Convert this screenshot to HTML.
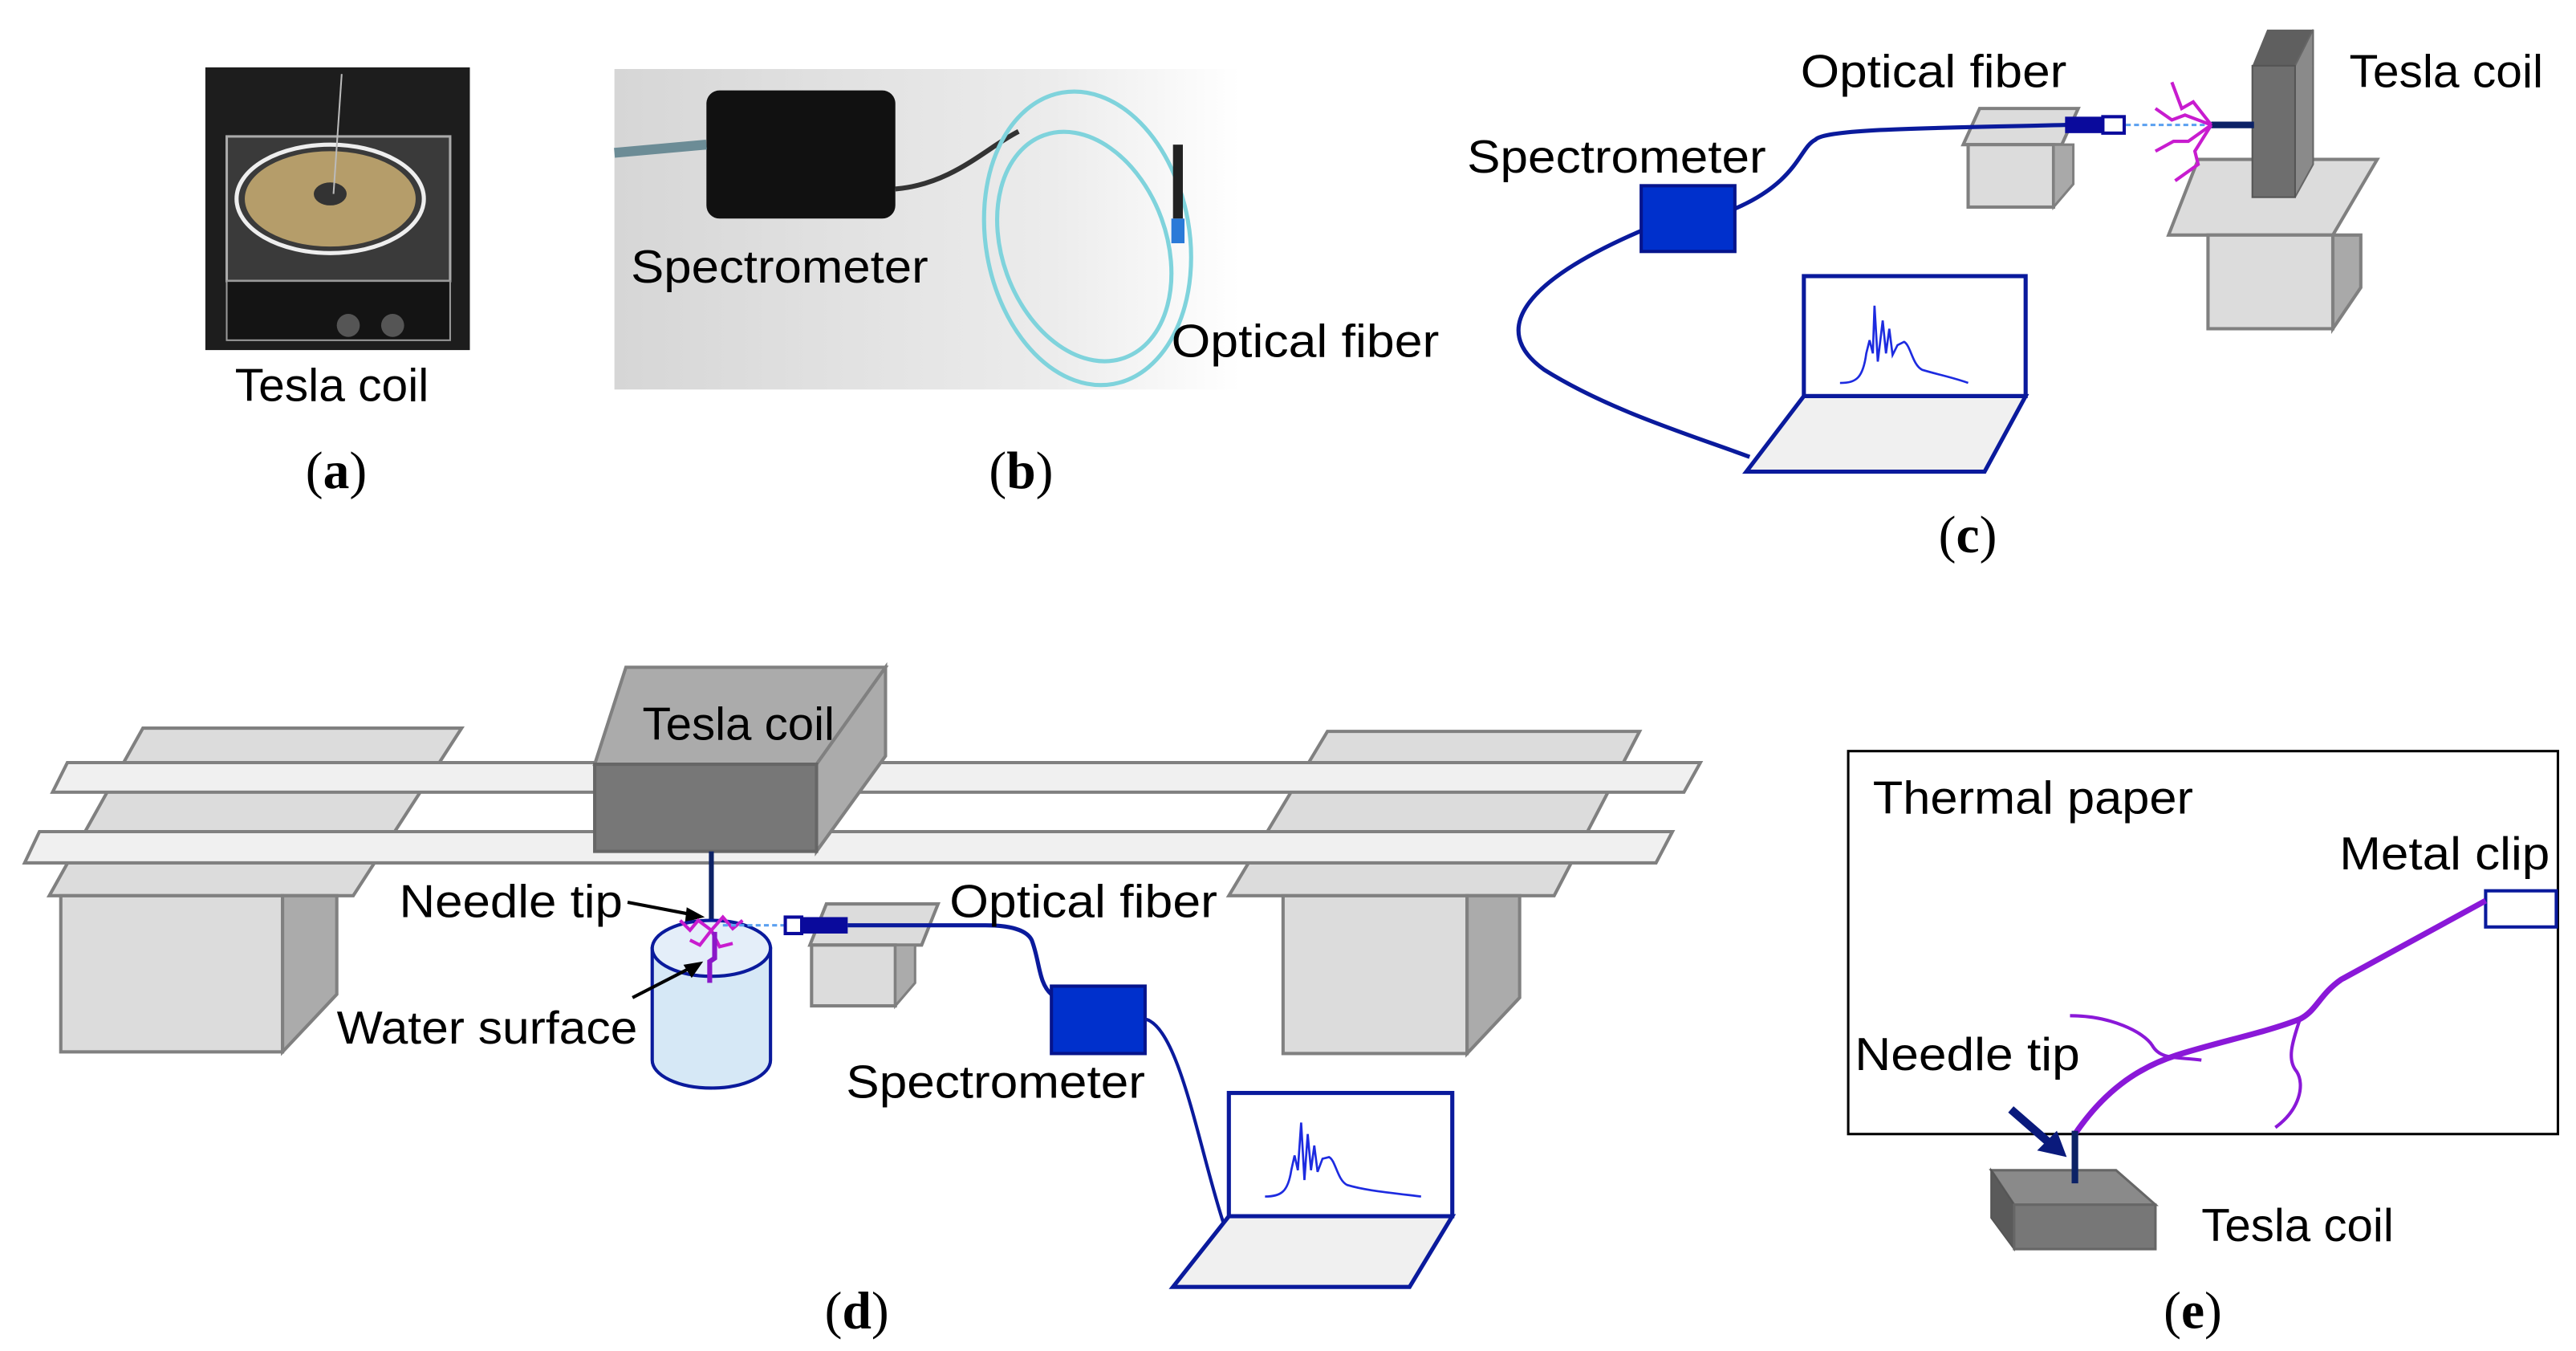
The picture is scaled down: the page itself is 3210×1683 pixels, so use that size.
<!DOCTYPE html>
<html><head><meta charset="utf-8"><style>
html,body{margin:0;padding:0;background:#fff;}
svg{display:block;}
text{font-family:"Liberation Sans",sans-serif;fill:#000;}
.lb{font-family:"Liberation Serif",serif;font-size:32px;}
</style></head><body>
<svg width="3210" height="1683" viewBox="0 0 1568 822" preserveAspectRatio="none" xmlns="http://www.w3.org/2000/svg">
<defs>
<linearGradient id="bg" x1="0" y1="0" x2="1" y2="0"><stop offset="0" stop-color="#d6d6d6"/><stop offset="0.7" stop-color="#ececec"/><stop offset="1" stop-color="#ffffff"/></linearGradient>
</defs>
<g font-size="28" lengthAdjust="spacingAndGlyphs">
<!-- (a) photo -->
<rect x="125" y="41" width="161" height="172" fill="#1d1d1d"/>
<rect x="138" y="83" width="136" height="88" fill="#3a3a3a" stroke="#aaa" stroke-width="1.5"/>
<ellipse cx="201" cy="121" rx="57" ry="33" fill="none" stroke="#eee" stroke-width="2.5"/>
<ellipse cx="201" cy="121" rx="52" ry="29" fill="#b59d6a"/>
<ellipse cx="201" cy="118" rx="10" ry="7" fill="#333"/>
<line x1="208" y1="45" x2="203" y2="118" stroke="#bbb" stroke-width="1"/>
<rect x="138" y="171" width="136" height="36" fill="#141414" stroke="#999" stroke-width="1"/>
<circle cx="212" cy="198" r="7" fill="#555"/><circle cx="239" cy="198" r="7" fill="#555"/>
<text x="143" y="244" textLength="118" lengthAdjust="spacingAndGlyphs">Tesla coil</text>
<text class="lb" x="186" y="297"><tspan>(</tspan><tspan font-weight="bold">a</tspan><tspan>)</tspan></text>
<!-- (b) photo -->
<rect x="374" y="42" width="381" height="195" fill="url(#bg)"/>
<rect x="430" y="55" width="115" height="78" rx="8" fill="#111"/>
<path d="M374 93 L430 88" stroke="#6c8c96" stroke-width="6"/>
<path d="M545 115 C580 112 600 90 620 80" stroke="#333" stroke-width="3" fill="none"/>
<ellipse cx="662" cy="145" rx="62" ry="90" fill="none" stroke="#7fd3dc" stroke-width="2.5" transform="rotate(-10 662 145)"/>
<ellipse cx="660" cy="150" rx="50" ry="72" fill="none" stroke="#7fd3dc" stroke-width="2.5" transform="rotate(-20 660 150)"/>
<rect x="714" y="88" width="6" height="45" fill="#222"/><rect x="713" y="133" width="8" height="15" fill="#2a7ad8"/>
<text x="384" y="172" textLength="181" lengthAdjust="spacingAndGlyphs">Spectrometer</text>
<text x="713" y="217" textLength="163" lengthAdjust="spacingAndGlyphs">Optical fiber</text>
<text class="lb" x="602" y="297"><tspan>(</tspan><tspan font-weight="bold">b</tspan><tspan>)</tspan></text>

<!-- (c) -->
<text x="1096" y="53" textLength="162" lengthAdjust="spacingAndGlyphs">Optical fiber</text>
<text x="1430" y="53" textLength="118" lengthAdjust="spacingAndGlyphs">Tesla coil</text>
<text x="893" y="105" textLength="182" lengthAdjust="spacingAndGlyphs">Spectrometer</text>
<polygon points="1338,97 1447,97 1420,143 1320,143" fill="#dcdcdc" stroke="#808080" stroke-width="2"/>
<rect x="1344" y="143" width="76" height="57" fill="#dcdcdc" stroke="#808080" stroke-width="2"/>
<polygon points="1420,143 1437,143 1437,175 1420,200" fill="#a9a9a9" stroke="#808080" stroke-width="2"/>
<polygon points="1371,40 1380,18 1408,18 1397,40" fill="#5f5f5f"/>
<polygon points="1397,40 1408,18 1408,100 1397,120" fill="#8a8a8a" stroke="#666" stroke-width="1"/>
<rect x="1371" y="40" width="26" height="80" fill="#6e6e6e" stroke="#555" stroke-width="1"/>
<polygon points="1205,66 1265,66 1255,88 1195,88" fill="#dcdcdc" stroke="#808080" stroke-width="2"/>
<rect x="1198" y="88" width="52" height="38" fill="#dcdcdc" stroke="#808080" stroke-width="2"/>
<polygon points="1250,88 1262,88 1262,112 1250,126" fill="#a9a9a9" stroke="#808080" stroke-width="1.5"/>
<path d="M1056,127 C1095,110 1095,90 1105,85 C1112,78 1180,78 1258,76" stroke="#0a1a9c" stroke-width="2.5" fill="none"/>
<path d="M1000,140 C930,170 905,200 940,225 C980,250 1030,265 1065,278" stroke="#0a1a9c" stroke-width="2.5" fill="none"/>
<rect x="1257" y="71" width="23" height="10" fill="#0a0a9c"/>
<rect x="1280" y="71" width="13" height="10" fill="#fff" stroke="#0a0a9c" stroke-width="2"/>
<line x1="1294" y1="76" x2="1346" y2="76" stroke="#5aa0f0" stroke-width="1.5" stroke-dasharray="3,2"/>
<line x1="1346" y1="76" x2="1372" y2="76" stroke="#0c2266" stroke-width="4"/>
<g stroke="#c81ccf" stroke-width="2" fill="none">
<path d="M1346,76 L1335,62 L1328,66 L1322,50"/>
<path d="M1346,76 L1330,70 L1322,73 L1312,66"/>
<path d="M1346,76 L1332,86 L1323,86 L1312,92"/>
<path d="M1346,76 L1336,92 L1338,100 L1324,110"/>
</g>
<rect x="999" y="113" width="57" height="40" fill="#0030cc" stroke="#06148c" stroke-width="2"/>
<rect x="1098" y="168" width="135" height="73" fill="#fff" stroke="#0a1a9c" stroke-width="2.5"/>
<polygon points="1098,241 1233,241 1208,287 1063,287" fill="#f0f0f0" stroke="#0a1a9c" stroke-width="2.5"/>
<path d="M1120,233 C1130,233 1134,230 1136,215 L1138,207 L1140,215 L1141,186 L1143,220 L1146,195 L1148,215 L1150,200 L1152,216 L1155,210 L1159,208 C1163,210 1164,222 1170,225 C1180,228 1190,230 1198,233" stroke="#1d2be0" stroke-width="1.3" fill="none"/>
<text class="lb" x="1180" y="336"><tspan>(</tspan><tspan font-weight="bold">c</tspan><tspan>)</tspan></text>

<!-- (d) -->
<polygon points="87,443 281,443 215,545 30,545" fill="#dcdcdc" stroke="#808080" stroke-width="2"/>
<polygon points="808,445 998,445 946,545 748,545" fill="#dcdcdc" stroke="#808080" stroke-width="2"/>
<polygon points="41,464 1035,464 1025,482 32,482" fill="#f0f0f0" stroke="#808080" stroke-width="2"/>
<polygon points="24,506 1018,506 1008,525 15,525" fill="#f0f0f0" stroke="#808080" stroke-width="2"/>
<rect x="37" y="545" width="135" height="95" fill="#dcdcdc" stroke="#808080" stroke-width="2"/>
<polygon points="172,545 205,545 205,605 172,640" fill="#ababab" stroke="#808080" stroke-width="2"/>
<rect x="781" y="545" width="112" height="96" fill="#dcdcdc" stroke="#808080" stroke-width="2"/>
<polygon points="893,545 925,545 925,607 893,641" fill="#ababab" stroke="#808080" stroke-width="2"/>
<polygon points="362,465 381,406 539,406 497,465" fill="#ababab" stroke="#808080" stroke-width="2"/>
<polygon points="497,465 539,406 539,460 497,518" fill="#ababab" stroke="#808080" stroke-width="2"/>
<rect x="362" y="465" width="135" height="53" fill="#777" stroke="#666" stroke-width="2"/>
<text x="391" y="450" textLength="117" lengthAdjust="spacingAndGlyphs">Tesla coil</text>
<line x1="433" y1="518" x2="433" y2="566" stroke="#0c2266" stroke-width="3"/>
<text x="243" y="558" textLength="136" lengthAdjust="spacingAndGlyphs">Needle tip</text>
<path d="M382,549 L424,557" stroke="#000" stroke-width="2"/><polygon points="429,558 418,552 417,561"/>
<path d="M397,577 L397,645 A36,17 0 0 0 469,645 L469,577 Z" fill="#d6e8f6" stroke="#0a1a9c" stroke-width="2"/>
<ellipse cx="433" cy="577" rx="36" ry="17" fill="#e4eef9" stroke="#0a1a9c" stroke-width="2"/>
<g stroke="#c81ccf" stroke-width="2" fill="none">
<path d="M433,566 L425,560 L420,566 L414,560"/><path d="M433,566 L440,558 L446,565 L452,560"/>
<path d="M433,566 L426,575 L420,572"/><path d="M433,566 L438,576 L446,574"/>
</g>
<path d="M435,567 L435,583 L432,585 L432,598" stroke="#8a18c8" stroke-width="3" fill="none"/>
<text x="205" y="635" textLength="183" lengthAdjust="spacingAndGlyphs">Water surface</text>
<path d="M385,607 L422,588" stroke="#000" stroke-width="2"/><polygon points="428,585 416,587 421,595"/>
<line x1="440" y1="563" x2="478" y2="563" stroke="#5aa0f0" stroke-width="1.5" stroke-dasharray="3,2"/>
<polygon points="503,550 571,550 561,575 493,575" fill="#dcdcdc" stroke="#808080" stroke-width="2"/>
<rect x="494" y="575" width="51" height="37" fill="#dcdcdc" stroke="#808080" stroke-width="2"/>
<polygon points="545,575 557,575 557,598 545,612" fill="#ababab" stroke="#808080" stroke-width="1.5"/>
<rect x="478" y="558" width="10" height="10" fill="#fff" stroke="#0a0a9c" stroke-width="2"/>
<rect x="488" y="558" width="28" height="10" fill="#0a0a9c"/>
<path d="M516,563 L600,563 C615,563 625,566 628,572 C633,585 632,598 640,605" stroke="#0a1a9c" stroke-width="2.5" fill="none"/>
<text x="578" y="558" textLength="163" lengthAdjust="spacingAndGlyphs">Optical fiber</text>
<rect x="640" y="600" width="57" height="41" fill="#0030cc" stroke="#06148c" stroke-width="2"/>
<text x="515" y="668" textLength="182" lengthAdjust="spacingAndGlyphs">Spectrometer</text>
<path d="M697,620 C718,625 730,700 745,745" stroke="#0a1a9c" stroke-width="2" fill="none"/>
<rect x="748" y="665" width="136" height="75" fill="#fff" stroke="#0a1a9c" stroke-width="2.5"/>
<polygon points="748,740 884,740 858,783 714,783" fill="#f0f0f0" stroke="#0a1a9c" stroke-width="2.5"/>
<path d="M770,728 C780,728 784,725 786,712 L788,703 L790,712 L792,683 L794,718 L796,690 L798,712 L800,697 L802,713 L805,705 L809,704 C813,706 814,718 820,721 C830,724 840,725 865,728" stroke="#1d2be0" stroke-width="1.3" fill="none"/>
<text class="lb" x="502" y="808"><tspan>(</tspan><tspan font-weight="bold">d</tspan><tspan>)</tspan></text>

<!-- (e) -->
<rect x="1125" y="457" width="432" height="233" fill="#fff" stroke="#000" stroke-width="1.5"/>
<text x="1140" y="495" textLength="195" lengthAdjust="spacingAndGlyphs">Thermal paper</text>
<text x="1424" y="529" textLength="128" lengthAdjust="spacingAndGlyphs">Metal clip</text>
<rect x="1513" y="542" width="43" height="22" fill="#fff" stroke="#0a1a9c" stroke-width="2"/>
<path d="M1263,690 C1280,665 1300,650 1325,642 C1350,634 1380,628 1400,620 C1410,615 1412,605 1425,596 L1513,548" stroke="#8a18d8" stroke-width="3.5" fill="none"/>
<path d="M1260,618 C1285,618 1305,628 1310,636 C1315,645 1325,643 1340,645" stroke="#8a18d8" stroke-width="2" fill="none"/>
<path d="M1400,620 C1395,635 1392,645 1398,652 C1403,660 1400,675 1385,686" stroke="#8a18d8" stroke-width="2" fill="none"/>
<text x="1129" y="651" textLength="137" lengthAdjust="spacingAndGlyphs">Needle tip</text>
<path d="M1224,675 L1247,695" stroke="#0a1a7c" stroke-width="5"/><polygon points="1258,704 1240,700 1252,688" fill="#0a1a7c"/>
<polygon points="1212,712 1288,712 1312,733 1226,733" fill="#8a8a8a" stroke="#666" stroke-width="1.5"/>
<polygon points="1212,712 1226,733 1226,760 1212,741" fill="#5a5a5a" stroke="#555" stroke-width="1"/>
<rect x="1226" y="733" width="86" height="27" fill="#777" stroke="#666" stroke-width="1.5"/>
<line x1="1263" y1="688" x2="1263" y2="720" stroke="#0c2266" stroke-width="4"/>
<text x="1340" y="755" textLength="117" lengthAdjust="spacingAndGlyphs">Tesla coil</text>
<text class="lb" x="1317" y="808"><tspan>(</tspan><tspan font-weight="bold">e</tspan><tspan>)</tspan></text>
</g>
</svg>
</body></html>
